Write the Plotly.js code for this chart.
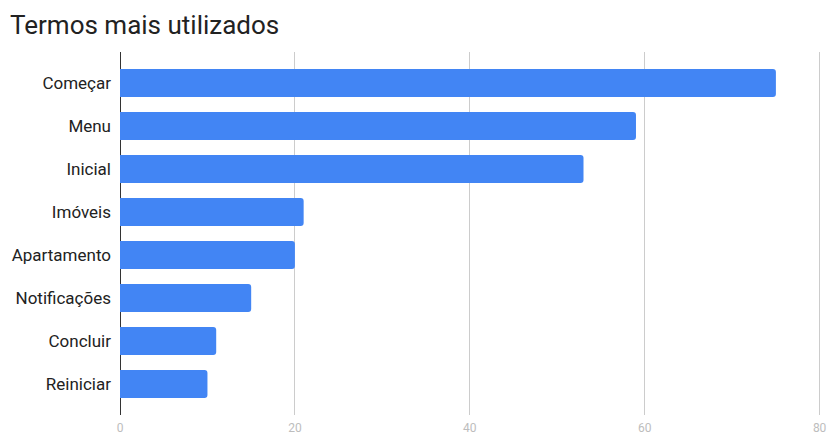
<!DOCTYPE html>
<html>
<head>
<meta charset="utf-8">
<script src="https://cdn.plot.ly/plotly-3.0.1.min.js"></script>
<style>html,body{margin:0;padding:0;background:#fff;}#chart{width:827px;height:434px;}</style>
</head>
<body>
<div id="chart"></div>
<script>
const categories = ["Começar", "Menu", "Inicial", "Imóveis", "Apartamento", "Notificações", "Concluir", "Reiniciar"];
const values = [75, 59, 53, 21, 20, 15, 11, 10];
const xTicks = [0, 20, 40, 60, 80];

const trace = {
  type: 'bar',
  orientation: 'h',
  y: categories,
  x: values,
  marker: {color: '#4285f4', cornerradius: 3},
  hoverinfo: 'x+y'
};

const layout = {
  width: 827,
  height: 434,
  margin: {l: 120, r: 2.6, t: 52, b: 19},
  paper_bgcolor: '#fff',
  plot_bgcolor: '#fff',
  bargap: 0.35,
  showlegend: false,
  title: {
    text: 'Termos mais utilizados',
    font: {family: 'Roboto', size: 26, color: '#222'},
    xref: 'container', x: 10/827, xanchor: 'left',
    yref: 'container', y: 1 - 25/434, yanchor: 'middle'
  },
  xaxis: {
    range: [0, 80.5],
    tickvals: xTicks,
    ticktext: xTicks.map(String),
    showgrid: true,
    gridcolor: '#cccccc',
    gridwidth: 1,
    zeroline: true,
    zerolinecolor: '#333',
    zerolinewidth: 1,
    showline: false,
    ticks: 'outside',
    ticklen: 2,
    tickcolor: 'rgba(0,0,0,0)',
    ticklabeloverflow: 'allow',
    tickfont: {family: 'Roboto', size: 12, color: '#bdbdbd'},
    fixedrange: true
  },
  yaxis: {
    type: 'category',
    categoryorder: 'array',
    categoryarray: categories,
    autorange: false,
    range: [7.72, -0.72],
    showgrid: false,
    zeroline: false,
    showline: false,
    ticks: '',
    ticklabelstandoff: 8,
    tickfont: {family: 'Roboto', size: 17, color: '#222'},
    fixedrange: true
  }
};

Plotly.newPlot('chart', [trace], layout, {displayModeBar: false, staticPlot: true});
</script>
</body>
</html>
